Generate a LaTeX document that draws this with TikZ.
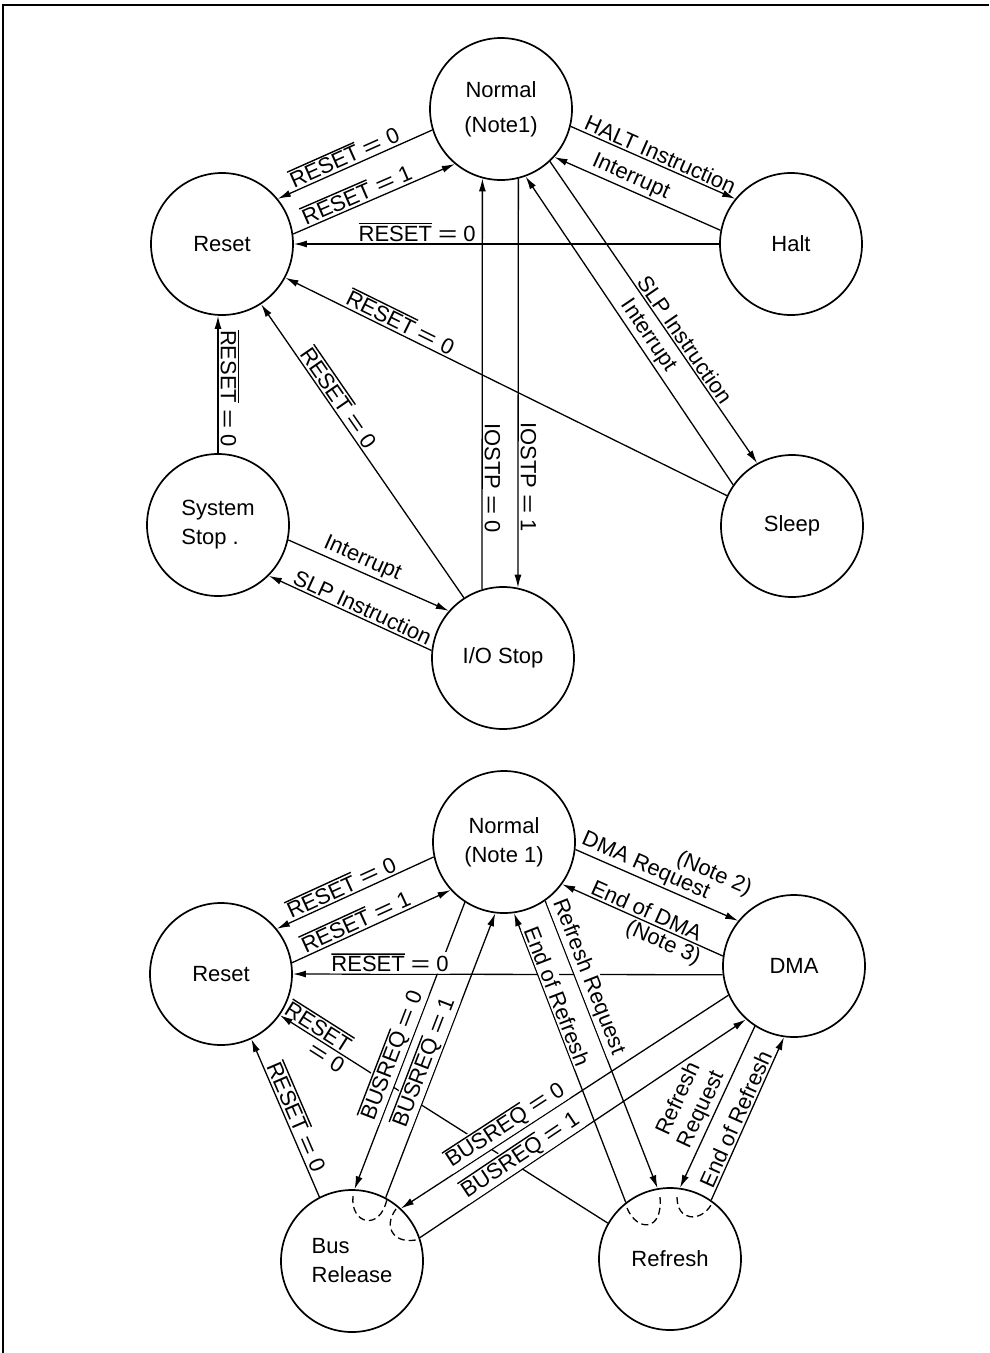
\documentclass[tikz,border=0pt]{standalone}
\usepackage{graphicx}
\usepackage{fontspec}
\setmainfont{Liberation Sans}
\usetikzlibrary{arrows.meta}

% signal name with a heavy bar over it, and a wide equals sign
\newcommand{\ovl}[1]{\leavevmode\vbox{\hrule height 1.4pt\kern 1.6pt\hbox{#1}}}
\newcommand{\eqs}{\ \scalebox{1.5}[1]{=}\ }

\begin{document}
\begin{tikzpicture}[
        x=1pt, y=-1pt,
        state/.style={circle, draw=black, line width=1.7pt, minimum size=142pt,
            inner sep=0pt, align=center, font=\fontsize{22}{29}\selectfont},
        trans/.style={draw=black, line width=1.3pt, -{Latex[length=13pt,width=7pt]}},
        lbl/.style={sloped, inner sep=2pt, font=\fontsize{22}{25}\selectfont},
        vlbl/.style={rotate=-90, inner sep=2pt, font=\fontsize{22}{25}\selectfont},
        masked/.style={lbl, fill=white, inner sep=1.5pt},
        loopback/.style={draw=black, line width=1.3pt, dash pattern=on 7pt off 4pt},
        frame/.style={draw=black, line width=2.6pt}]
        \useasboundingbox (0,0) rectangle (989,1353);
        \draw[frame] (3,1353) -- (3,5) -- (989,5);

        % Upper chart: operating modes
        \node[state] (normA) at (501,109) {Normal\\[6pt](Note1)};
        \node[state] (resetA) at (222,244) {Reset};
        \node[state] (halt) at (791,244) {Halt};
        \node[state] (sleep) at (792,526) {Sleep};
        \node[state, align=left] (sysstop) at (218,525) {System\\Stop .};
        \node[state] (iostop) at (503,658) {I/O Stop};

        \draw[trans] (normA.197) -- node[lbl, pos=.54, above] {\ovl{RESET}\eqs0} (resetA.39);
        \draw[trans] (resetA.8) -- node[lbl, pos=.42, above] {\ovl{RESET}\eqs1} (normA.230);
        \draw[trans] (halt.180) -- node[lbl, pos=.71, above] {\ovl{RESET}\eqs0} (resetA.0);
        \draw[trans] (normA.346) -- node[lbl, pos=.52, above] {HALT Instruction} (halt.141);
        \draw[trans] (halt.169) -- node[lbl, pos=.57, above] {Interrupt} (normA.318);
        \draw[trans] (normA.313) -- node[lbl, pos=.61, above] {SLP Instruction} (sleep.119);
        \draw[trans] (sleep.145) -- node[lbl, pos=.46, above] {Interrupt} (normA.290);
        \draw[trans] (sleep.155) -- node[lbl, pos=.75, above] {\ovl{RESET}\eqs0} (resetA.332);
        \draw[trans] (iostop.123) -- node[lbl, pos=.66, above] {\ovl{RESET}\eqs0} (resetA.303);
        \draw[trans] (sysstop.north) -- node[vlbl, pos=.47, above] {\ovl{RESET}\eqs0} (sysstop.north |- resetA.south);
        \draw[trans] (iostop.107) -- node[vlbl, pos=.27, above] {IOSTP\eqs0} (normA.255);
        \draw[trans] (normA.284) -- node[vlbl, pos=.73, above] {IOSTP\eqs1} (iostop.78);
        \draw[trans] (sysstop.348) -- node[lbl, pos=.43, above] {Interrupt} (iostop.139);
        \draw[trans] (iostop.174) -- node[lbl, pos=.45, above] {SLP Instruction} (sysstop.315);

        % Lower chart: bus arbitration and refresh
        \node[state] (normB) at (504,842) {Normal\\(Note 1)};
        \node[state] (resetB) at (221,974) {Reset};
        \node[state] (dma) at (794,966) {DMA};
        \node[state, align=left] (busrel) at (352,1261) {Bus\\Release};
        \node[state] (refresh) at (670,1259) {Refresh};

        % drawn first so the labels below blank it out where they cross
        \draw[trans] (refresh.150) -- node[lbl, pos=.90, above] {\ovl{RESET}}
                node[lbl, pos=.84, below] {\scalebox{1.5}[1]{=}\ 0} (resetB.325);
        \draw[trans] (normB.237) -- node[masked, pos=.55, above] {\ovl{BUSREQ}\eqs0} (busrel.88);
        \draw[trans] (busrel.62) -- node[masked, pos=.46, above] {\ovl{BUSREQ}\eqs1} (normB.263);
        \draw[trans] (dma.204) -- node[masked, pos=.66, above] {\ovl{BUSREQ}\eqs0} (busrel.47);
        \draw[trans] (busrel.19) -- node[masked, pos=.33, above] {\ovl{BUSREQ}\eqs1} (dma.228);
        \draw[trans] (dma.187) -- node[masked, pos=.774, above] {\ovl{RESET}\eqs0} (resetB.east);
        \draw[trans] (normB.305) -- node[masked, pos=.28, above] {Refresh Request} (refresh.100);
        \draw[trans] (refresh.128) -- node[masked, pos=.70, above] {End of Refresh} (normB.278);

        \draw[trans] (normB.192) -- node[lbl, pos=.56, above] {\ovl{RESET}\eqs0} (resetB.39);
        \draw[trans] (resetB.9) -- node[lbl, pos=.43, above] {\ovl{RESET}\eqs1} (normB.222);
        \draw[trans] (normB.354) -- node[lbl, pos=.40, above] {DMA Request}
                node[lbl, pos=.77, above=20pt] {(Note 2)} (dma.141);
        \draw[trans] (dma.172) -- node[lbl, pos=.50, above] {End of DMA}
                node[lbl, pos=.34, below] {(Note 3)} (normB.324);
        \draw[trans] (dma.237) -- node[lbl, pos=.55, above, align=center] {Refresh\\Request} (refresh.82);
        \draw[trans] (refresh.55) -- node[lbl, pos=.47, above] {End of Refresh} (dma.262);
        \draw[trans] (busrel.117) -- node[lbl, pos=.48, above] {\ovl{RESET}\eqs0} (resetB.295);

        % dashed returns inside Bus Release and Refresh
        \draw[loopback] (353,1196) .. controls (350,1224) and (380,1232) .. (387,1199);
        \draw[loopback] (396,1209) .. controls (382,1228) and (395,1246) .. (420,1239);
        \draw[loopback] (627,1208) .. controls (637,1232) and (663,1232) .. (660,1197);
        \draw[loopback] (677,1197) .. controls (677,1222) and (701,1222) .. (711,1205);
\end{tikzpicture}
\end{document}
